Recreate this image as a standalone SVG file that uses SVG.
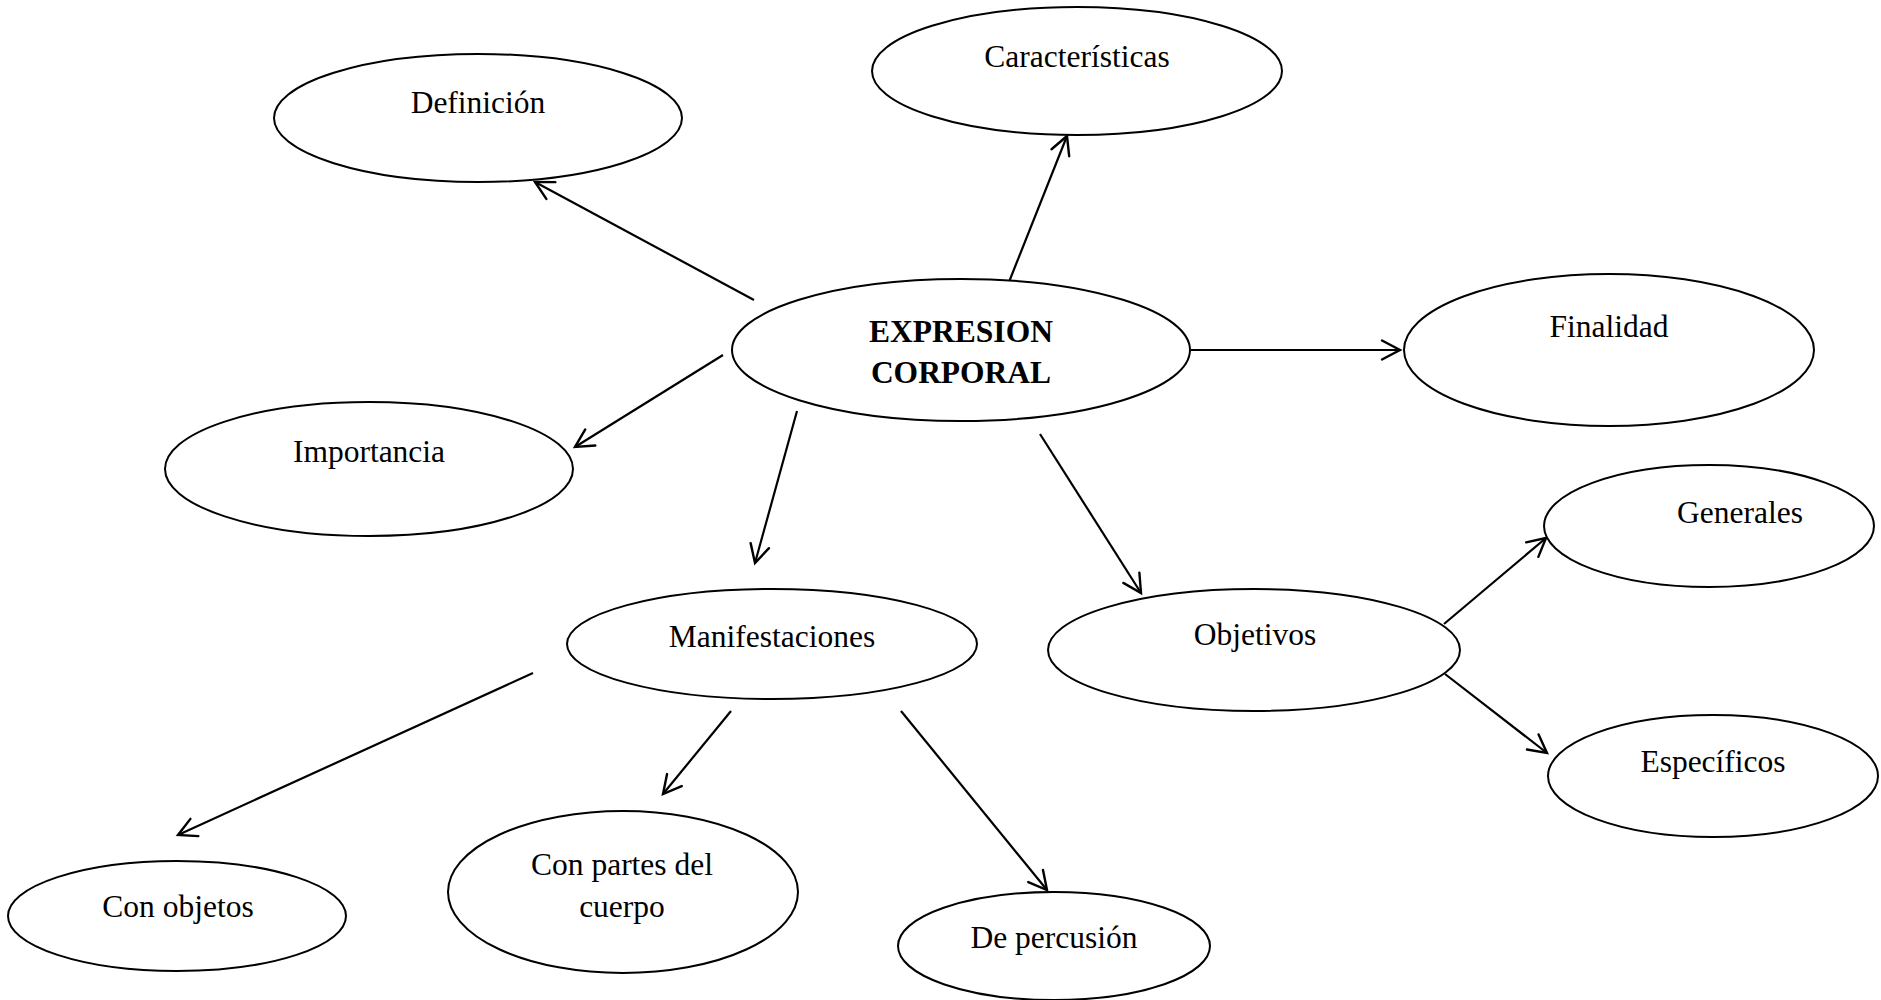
<svg xmlns="http://www.w3.org/2000/svg" width="1881" height="1000" viewBox="0 0 1881 1000">
<defs>
<style>
.n ellipse{fill:#fff;stroke:#000;stroke-width:2}
.n text{font-family:"Liberation Serif","Times New Roman",serif;font-size:31.5px;fill:#000;text-anchor:middle}
.b{font-weight:bold}
.c line{stroke:#000;stroke-width:2.2;marker-end:url(#ah)}
</style>
<marker id="ah" markerUnits="userSpaceOnUse" viewBox="-21 -12 24 24" markerWidth="24" markerHeight="24" refX="0" refY="0" orient="auto">
<path d="M-18,-9.5 L0,0 L-18,9.5" fill="none" stroke="#000" stroke-width="2.4" stroke-linecap="round" stroke-linejoin="miter"/>
</marker>
</defs>
<rect width="1881" height="1000" fill="#fff"/>
<g id="connectors" class="c">
<line x1="754" y1="300" x2="535" y2="182"/>
<line x1="1009" y1="282" x2="1067" y2="136"/>
<line x1="1191" y1="350" x2="1400" y2="350"/>
<line x1="723" y1="355" x2="575" y2="447"/>
<line x1="797" y1="411" x2="755" y2="563"/>
<line x1="1040" y1="434" x2="1141" y2="593"/>
<line x1="1444" y1="624" x2="1546" y2="538"/>
<line x1="1445" y1="674" x2="1547" y2="753"/>
<line x1="533" y1="673" x2="178" y2="835"/>
<line x1="731" y1="711" x2="663" y2="794"/>
<line x1="901" y1="711" x2="1047" y2="890"/>
</g>
<g id="definicion" class="n"><ellipse cx="478" cy="118" rx="204" ry="64"/><text x="478" y="113">Definición</text></g>
<g id="caracteristicas" class="n"><ellipse cx="1077" cy="71" rx="205" ry="64"/><text x="1077" y="67">Características</text></g>
<g id="expresion" class="n"><ellipse cx="961" cy="350" rx="229" ry="71"/><text class="b" x="961" y="342">EXPRESION</text><text class="b" x="961" y="383">CORPORAL</text></g>
<g id="finalidad" class="n"><ellipse cx="1609" cy="350" rx="205" ry="76"/><text x="1609" y="337">Finalidad</text></g>
<g id="importancia" class="n"><ellipse cx="369" cy="469" rx="204" ry="67"/><text x="369" y="462">Importancia</text></g>
<g id="generales" class="n"><ellipse cx="1709" cy="526" rx="165" ry="61"/><text x="1740" y="523">Generales</text></g>
<g id="manifestaciones" class="n"><ellipse cx="772" cy="644" rx="205" ry="55"/><text x="772" y="647">Manifestaciones</text></g>
<g id="objetivos" class="n"><ellipse cx="1254" cy="650" rx="206" ry="61"/><text x="1255" y="645">Objetivos</text></g>
<g id="especificos" class="n"><ellipse cx="1713" cy="776" rx="165" ry="61"/><text x="1713" y="772">Específicos</text></g>
<g id="con-objetos" class="n"><ellipse cx="177" cy="916" rx="169" ry="55"/><text x="178" y="917">Con objetos</text></g>
<g id="con-partes" class="n"><ellipse cx="623" cy="892" rx="175" ry="81"/><text x="622" y="875">Con partes del</text><text x="622" y="917">cuerpo</text></g>
<g id="de-percusion" class="n"><ellipse cx="1054" cy="946" rx="156" ry="54"/><text x="1054" y="948">De percusión</text></g>
</svg>
